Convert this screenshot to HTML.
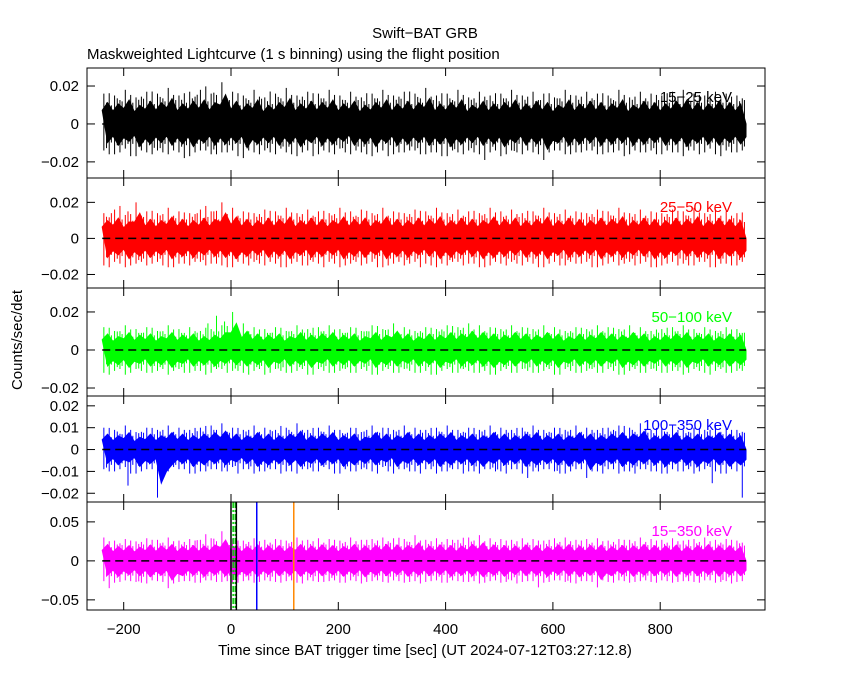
<!DOCTYPE html>
<html><head><meta charset="utf-8"><style>
html,body{margin:0;padding:0;background:#fff;}
svg text{font-family:"Liberation Sans",sans-serif;}
</style></head><body>
<svg id="c" width="850" height="680" viewBox="0 0 850 680" xmlns="http://www.w3.org/2000/svg">
<text x="425" y="38" font-size="15" text-anchor="middle">Swift−BAT GRB</text>
<text x="87" y="59" font-size="15">Maskweighted Lightcurve (1 s binning) using the flight position</text>
<text transform="translate(22,340) rotate(-90)" font-size="15" text-anchor="middle">Counts/sec/det</text>
<text x="425" y="655" font-size="15" text-anchor="middle">Time since BAT trigger time [sec] (UT 2024-07-12T03:27:12.8)</text>
<g id="g"></g>
</svg>
<script>
const binStart = [];
for (let t = -240; t < 960; t += 20) binStart.push(t);
const xTicks = [-200, 0, 200, 400, 600, 800];
const bands = ["15−25 keV","25−50 keV","50−100 keV","100−350 keV","15−350 keV"];
const colors = ["#000","#f00","#0f0","#00f","#f0f"];
const hi1=[16,15,18,14,17,16,19,15,17,18,16,22,17,15,18,14,16,19,15,17,16,18,15,17,14,16,18,15,17,16,19,15,16,18,14,17,15,16,18,15,17,16,14,18,15,17,16,15,18,14,17,16,15,17,18,16,15,17,16,15];
const lo1=[-14,-16,-13,-17,-15,-14,-16,-15,-17,-14,-16,-15,-14,-18,-15,-14,-16,-15,-17,-14,-16,-15,-13,-16,-15,-17,-14,-16,-15,-14,-16,-15,-17,-15,-14,-16,-15,-17,-14,-16,-15,-19,-14,-16,-15,-14,-16,-15,-14,-16,-15,-14,-16,-15,-17,-14,-15,-16,-14,-15];
const hi2=[14,16,13,20,15,14,17,15,14,16,15,20,17,15,14,16,15,17,14,16,15,14,17,15,16,14,17,15,14,16,15,17,14,16,15,14,17,15,16,14,15,17,14,16,15,14,16,15,17,14,16,15,14,16,15,17,14,16,15,14];
const lo2=[-15,-13,-16,-14,-15,-13,-16,-14,-15,-13,-14,-15,-16,-14,-13,-15,-14,-16,-13,-15,-14,-13,-16,-14,-15,-13,-16,-14,-15,-13,-14,-16,-15,-13,-14,-16,-15,-14,-13,-15,-14,-16,-13,-15,-14,-13,-16,-14,-15,-13,-14,-16,-15,-13,-14,-15,-13,-16,-14,-15];
const hi3=[12,10,13,11,12,10,13,11,12,10,11,13,20,14,12,11,12,10,13,11,12,13,11,12,10,13,11,14,12,10,12,11,13,12,14,13,12,11,13,12,11,13,12,10,12,11,13,12,11,13,12,10,11,12,13,11,12,10,12,11];
const lo3=[-12,-11,-13,-10,-12,-11,-13,-10,-12,-11,-12,-10,-11,-12,-11,-13,-10,-12,-11,-13,-10,-12,-11,-12,-10,-13,-11,-12,-10,-12,-11,-13,-10,-12,-11,-12,-13,-11,-12,-10,-12,-11,-13,-10,-12,-11,-12,-10,-13,-11,-12,-10,-12,-11,-13,-10,-12,-11,-12,-11];
const hi4=[10,9,11,8,10,9,11,10,9,10,11,12,10,9,11,10,9,10,12,9,10,11,9,10,8,11,10,9,11,10,9,10,11,9,10,9,11,10,9,10,11,9,10,9,11,10,9,10,11,10,12,9,10,11,9,10,9,11,10,9];
const lo4=[-9,-10,-8,-11,-9,-22,-10,-9,-11,-10,-9,-10,-8,-9,-11,-10,-9,-10,-11,-9,-10,-9,-11,-10,-9,-10,-8,-11,-9,-10,-9,-11,-10,-9,-10,-11,-9,-10,-9,-11,-10,-9,-10,-11,-9,-13,-10,-9,-11,-10,-9,-10,-11,-9,-10,-11,-9,-10,-11,-10];
const hi5=[30,26,28,25,29,27,30,26,28,27,29,38,28,26,29,27,28,26,30,27,29,28,26,30,27,28,30,29,28,33,27,29,28,27,30,33,29,28,27,29,28,26,29,30,27,28,29,26,28,27,30,28,27,29,26,28,30,27,28,26];
const lo5=[-26,-28,-25,-27,-29,-26,-35,-27,-26,-28,-25,-27,-29,-26,-28,-25,-27,-26,-28,-25,-27,-26,-28,-25,-29,-26,-27,-25,-28,-26,-27,-25,-28,-26,-27,-29,-26,-28,-25,-27,-26,-28,-25,-27,-29,-26,-34,-27,-25,-28,-26,-27,-25,-28,-26,-27,-25,-28,-26,-27];
const his=[hi1,hi2,hi3,hi4,hi5], los=[lo1,lo2,lo3,lo4,lo5];
const yTicks=[[0.02,0,-0.02],[0.02,0,-0.02],[0.02,0,-0.02],[0.02,0.01,0,-0.01,-0.02],[0.05,0,-0.05]];
const yTickLabels=[["0.02","0","−0.02"],["0.02","0","−0.02"],["0.02","0","−0.02"],["0.02","0.01","0","−0.01","−0.02"],["0.05","0","−0.05"]];
const yRanges=[[0.0295,-0.0285],[0.0335,-0.0275],[0.0326,-0.0242],[0.0245,-0.024],[0.0755,-0.063]];
const markerTimes=[0,4,8,10,48,117];
const markerColors=["#000","#0c0","#0c0","#000","#00f","#f80"];
const markerDash=["","6,2,2,2","6,2,2,2","","",""];

const NS="http://www.w3.org/2000/svg";
const g=document.getElementById('g');
const L=87,R=765, PB=[68,178,288,396,502,610];
const x=t=>231+(t)*0.5365;
function mk(tag,attrs,parent){const e=document.createElementNS(NS,tag);for(const k in attrs)e.setAttribute(k,attrs[k]);(parent||g).appendChild(e);return e;}
for(let p=0;p<5;p++){
  const top=PB[p],bot=PB[p+1];
  const [vT,vB]=yRanges[p];
  const y=v=>top+(vT-v)/(vT-vB)*(bot-top);
  const pg=mk('g',{});
  
  
  let up='',dn='';
  binStart.forEach((t,i)=>{
    up+=(i?'L':'M')+x(t).toFixed(1)+','+y(his[p][i]*0.45/1000).toFixed(1)+'L'+x(t+10).toFixed(1)+','+y(his[p][i]*0.7/1000).toFixed(1);
  });
  for(let i=binStart.length-1;i>=0;i--){
    const t=binStart[i];
    dn+='L'+x(t+20).toFixed(1)+','+y(los[p][i]*0.45/1000).toFixed(1)+'L'+x(t+10).toFixed(1)+','+y(los[p][i]*0.7/1000).toFixed(1);
  }
  const s=mk('path',{d:up+'L'+x(960)+','+y(0)+dn+'Z',fill:colors[p],stroke:colors[p],'stroke-width':1},pg);
  
  
  binStart.forEach((t,i)=>{
    [3,8,13,17].forEach((o,k)=>{
      const f=[1,0.75,0.9,0.7][k];
      const sp=mk('line',{x1:x(t+o),x2:x(t+o),y1:y(his[p][(i+k)%binStart.length]*f/1000),y2:y(los[p][(i+k*3)%binStart.length]*(k%2?f:1)/1000),stroke:colors[p],'stroke-width':1},pg);
      
      
    });
  });
  const z=mk('line',{x1:x(-240),x2:x(960),y1:y(0),y2:y(0),stroke:'#000','stroke-dasharray':'8,5','stroke-width':1.5},pg);
  
  
  if(p===4){
    markerTimes.forEach((t,i)=>{
      const m=mk('line',{x1:x(t),x2:x(t),y1:top,y2:bot,stroke:markerColors[i],'stroke-width':1.5,'stroke-dasharray':markerDash[i]},pg);
      
      
    });
  }
  const f=mk('rect',{x:L,y:top,width:R-L,height:bot-top,fill:'none',stroke:'#000','stroke-width':1},pg);
  
  
  yTicks[p].forEach((v,i)=>{
    mk('line',{x1:L,x2:L+8,y1:y(v),y2:y(v),stroke:'#000'},pg);
    mk('line',{x1:R,x2:R-8,y1:y(v),y2:y(v),stroke:'#000'},pg);
    const tl=mk('text',{x:L-8,y:y(v)+5,'font-size':15,'text-anchor':'end'},pg);
    tl.textContent=yTickLabels[p][i];
    
    
  });
  xTicks.forEach(t=>{
    mk('line',{x1:x(t),x2:x(t),y1:top,y2:top+8,stroke:'#000'},pg);
    mk('line',{x1:x(t),x2:x(t),y1:bot,y2:bot-8,stroke:'#000'},pg);
  });
  const lg=mk('text',{x:732,y:top+34,'font-size':15,'text-anchor':'end',fill:colors[p]},pg);
  lg.textContent=bands[p];
  
  
}
xTicks.forEach(t=>{
  const tl=mk('text',{x:x(t),y:634,'font-size':15,'text-anchor':'middle'});
  tl.textContent=t<0?'−'+(-t):String(t);
  
  
});
</script>
</body></html>
